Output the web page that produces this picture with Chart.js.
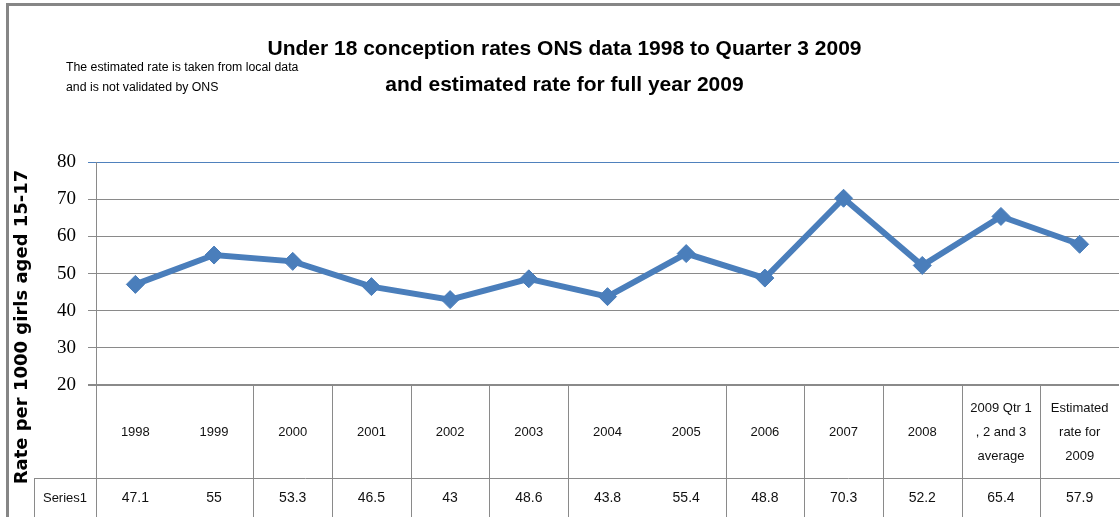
<!DOCTYPE html>
<html>
<head>
<meta charset="utf-8">
<script src="https://cdn.jsdelivr.net/npm/chart.js@4/dist/chart.umd.min.js"></script>
<style>
  html, body { margin: 0; padding: 0; background: #ffffff; }
  #wrap { width: 1120px; height: 517px; position: relative; }
</style>
</head>
<body>
<div id="wrap"><canvas id="c" width="1120" height="517"></canvas></div>
<script>
// ---- data ----
const categories = [
  ['1998'], ['1999'], ['2000'], ['2001'], ['2002'], ['2003'], ['2004'],
  ['2005'], ['2006'], ['2007'], ['2008'],
  ['2009 Qtr 1', ', 2 and 3', 'average'],
  ['Estimated', 'rate for', '2009']
];
const seriesName = 'Series1';
const series1 = [47.1, 55, 53.3, 46.5, 43, 48.6, 43.8, 55.4, 48.8, 70.3, 52.2, 65.4, 57.9];
const tableValueLabels = ['47.1', '55', '53.3', '46.5', '43', '48.6', '43.8', '55.4', '48.8', '70.3', '52.2', '65.4', '57.9'];
const yMin = 20, yMax = 80, yStep = 10;
const titleLines = ['Under 18 conception rates ONS data 1998 to Quarter 3 2009', 'and estimated rate for full year 2009'];
const noteLines = ['The estimated rate is taken from local data', 'and is not validated by ONS'];
const yAxisTitle = 'Rate per 1000 girls aged 15-17';

const SANS = "'Liberation Sans', Arial, sans-serif";
const LINE_BLUE = '#4A7EBB';
const GRID = '#8a8a8a';

const decorPlugin = {
  id: 'decor',
  beforeDraw(chart) {
    const ctx = chart.ctx;
    ctx.save();
    ctx.fillStyle = '#ffffff';
    ctx.fillRect(0, 0, chart.width, chart.height);
    // outer chart border (cut off at right and bottom)
    ctx.fillStyle = '#868686';
    ctx.fillRect(6, 3, chart.width, 3);
    ctx.fillRect(6, 3, 3, chart.height);
    ctx.restore();
  },
  afterDraw(chart) {
    const ctx = chart.ctx;
    const x = chart.scales.x;
    const area = chart.chartArea;
    const n = categories.length;
    const step = (x.getPixelForValue(1) - x.getPixelForValue(0));
    const headerBottom = 478;
    const tableBottom = chart.height;
    const seriesCellLeft = 34;
    ctx.save();
    // note text
    ctx.fillStyle = '#000';
    ctx.font = "12.3px " + SANS;
    ctx.textBaseline = 'middle';
    ctx.textAlign = 'left';
    noteLines.forEach((t, i) => ctx.fillText(t, 66, 68 + i * 20));

    // y axis title
    ctx.save();
    ctx.translate(22, 327);
    ctx.rotate(-Math.PI / 2);
    ctx.font = "bold 18px 'DejaVu Sans', Verdana, sans-serif";
    ctx.textAlign = 'center';
    ctx.fillText(yAxisTitle, 0, 0);
    ctx.restore();

    // data table lines
    ctx.strokeStyle = GRID;
    ctx.lineWidth = 1;
    ctx.beginPath();
    ctx.moveTo(Math.round(area.left) + 0.5, area.top);
    ctx.lineTo(Math.round(area.left) + 0.5, tableBottom);
    ctx.moveTo(seriesCellLeft, headerBottom + 0.5);
    ctx.lineTo(chart.width, headerBottom + 0.5);
    ctx.moveTo(seriesCellLeft + 0.5, headerBottom);
    ctx.lineTo(seriesCellLeft + 0.5, tableBottom);
    for (let i = 1; i < n; i++) {
      if (i === 1 || i === 7) continue; // these dividers vanish in the reference image
      const bx = Math.round(x.getPixelForValue(i) - step / 2) + 0.5;
      ctx.moveTo(bx, area.bottom);
      ctx.lineTo(bx, tableBottom);
    }
    ctx.stroke();

    // header labels
    ctx.fillStyle = '#111';
    ctx.font = "13px " + SANS;
    ctx.textAlign = 'center';
    ctx.textBaseline = 'middle';
    const headerMid = (area.bottom + headerBottom) / 2 + 1;
    const lh = 24;
    categories.forEach((lines, i) => {
      const cx = x.getPixelForValue(i);
      const y0 = headerMid - (lines.length - 1) * lh / 2;
      lines.forEach((t, j) => ctx.fillText(t, cx, y0 + j * lh));
    });
    // series row
    const rowMid = 498;
    ctx.font = "13px " + SANS;
    ctx.fillText(seriesName, (seriesCellLeft + area.left) / 2, rowMid);
    ctx.font = "14px " + SANS;
    tableValueLabels.forEach((t, i) => ctx.fillText(t, x.getPixelForValue(i), rowMid));
    ctx.restore();
  }
};

new Chart(document.getElementById('c'), {
  type: 'line',
  data: {
    labels: categories.map(c => c.join(' ')),
    datasets: [{
      label: seriesName,
      data: series1,
      borderColor: LINE_BLUE,
      backgroundColor: LINE_BLUE,
      borderWidth: 6,
      pointStyle: 'rectRot',
      pointRadius: 9,
      pointBorderWidth: 1,
      pointBackgroundColor: LINE_BLUE,
      pointBorderColor: LINE_BLUE,
      tension: 0,
      clip: false
    }]
  },
  options: {
    responsive: false,
    animation: false,
    events: [],
    layout: { autoPadding: false, padding: { left: 10, right: 1, top: 0, bottom: 132 } },
    plugins: {
      legend: { display: false },
      tooltip: { enabled: false },
      title: {
        display: true,
        text: titleLines,
        color: '#000',
        font: { family: SANS, size: 21, weight: 'bold', lineHeight: 1.72 },
        padding: { top: 31, bottom: 59 }
      }
    },
    scales: {
      x: {
        type: 'category',
        offset: true,
        display: true,
        grid: { display: false, drawTicks: false },
        ticks: { display: false },
        border: { display: false }
      },
      y: {
        min: yMin,
        max: yMax,
        afterFit(scale) { scale.width = 86; },
        ticks: {
          stepSize: yStep,
          padding: 12,
          color: '#000',
          font: { family: "'Liberation Serif', 'DejaVu Serif', serif", size: 19 }
        },
        grid: {
          drawTicks: true,
          tickLength: 8,
          color: (c) => c.tick && c.tick.value === yMax ? '#4F81BD' : GRID,
          lineWidth: (c) => c.tick && c.tick.value === yMin ? 2 : 1
        },
        border: { display: true, color: GRID, width: 1 }
      }
    }
  },
  plugins: [decorPlugin]
});
</script>
</body>
</html>
